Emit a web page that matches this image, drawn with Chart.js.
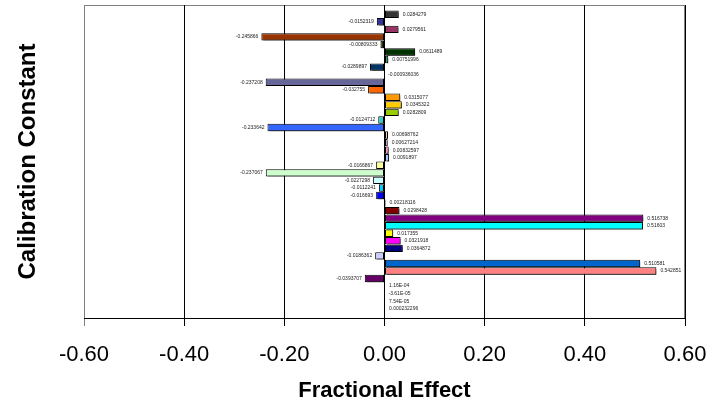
<!DOCTYPE html>
<html>
<head>
<meta charset="utf-8">
<script src="https://cdn.jsdelivr.net/npm/chart.js@4.4.0/dist/chart.umd.min.js"></script>
<style>
  body { margin: 0; background: #fff; }
  #wrap { width: 719px; height: 407px; }
</style>
</head>
<body>
<div id="wrap"><canvas id="chart" width="719" height="407"></canvas></div>
<script>
// ---------- DATOS (de arriba hacia abajo) ----------
const categories = ['Calibration'];
const seriesValues = [
  0.0284279, -0.0152319, 0.0279561, -0.245866, -0.00809333,
  0.0611489, 0.00751996, -0.0289897, -0.000936036, -0.237208,
  -0.032755, 0.0315077, 0.0345322, 0.0282809, -0.0124712,
  -0.233642, 0.00698762, 0.00627214, 0.00832597, 0.0091897,
  -0.0166867, -0.237067, -0.0227298, -0.0112241, -0.016693,
  0.00218116, 0.0298428, 0.516738, 0.51603, 0.017355,
  0.0321918, 0.0364872, -0.0186362, 0.510581, 0.542851,
  -0.0393707, 0.000116, -0.0000361, 0.0000754, 0.000232296
];
const seriesColors = [
  '#333333', '#333399', '#993366', '#993300', '#333300',
  '#003300', '#339966', '#003366', '#969696', '#666699',
  '#FF6600', '#FF9900', '#FFCC00', '#99CC00', '#33CCCC',
  '#3366FF', '#FFCC99', '#CC99FF', '#FF99CC', '#99CCFF',
  '#FFFF99', '#CCFFCC', '#CCFFFF', '#00CCFF', '#0000FF',
  '#008080', '#800000', '#800080', '#00FFFF', '#FFFF00',
  '#FF00FF', '#000080', '#CCCCFF', '#0066CC', '#FF8080',
  '#660066', '#CCFFFF', '#FFFFCC', '#993366', '#9999FF'
];
const xTicks = [-0.6, -0.4, -0.2, 0, 0.2, 0.4, 0.6];

// formato tipo "General" de Excel
function fmt(v) {
  if (v !== 0 && Math.abs(v) < 2e-4) {
    return v.toExponential(2).toUpperCase().replace(/E([+-])(\d)$/, 'E$10$2');
  }
  return String(v);
}

const datasets = seriesValues.map((v, i) => ({
  label: 'S' + (seriesValues.length - i),
  data: [v],
  backgroundColor: seriesColors[i],
  borderColor: '#000',
  borderWidth: 1,
  borderSkipped: false,
  categoryPercentage: 0.965,
  barPercentage: 0.98
}));

// sombra + etiquetas
const barLabels = {
  id: 'barLabels',
  beforeDatasetsDraw(chart) {
    const c = chart.ctx;
    c.save();
    c.shadowColor = 'rgba(0,0,0,0.5)';
    c.shadowOffsetX = 2;
    c.shadowOffsetY = 2;
    c.shadowBlur = 0;
  },
  afterDatasetsDraw(chart) {
    const c = chart.ctx;
    c.restore();
    c.save();
    c.font = '5px "Liberation Sans", Arial, sans-serif';
    c.fillStyle = '#222';
    c.textBaseline = 'middle';
    chart.data.datasets.forEach((ds, i) => {
      const el = chart.getDatasetMeta(i).data[0];
      const v = ds.data[0];
      if (v >= 0 || Math.abs(v) < 0.002) {
        c.textAlign = 'left';
        c.fillText(fmt(v), Math.max(el.x, el.base) + 4, el.y);
      } else {
        c.textAlign = 'right';
        c.fillText(fmt(v), el.x - 3, el.y);
      }
    });
    c.restore();
  },
  beforeDraw(chart) {
    const a = chart.chartArea, c = chart.ctx;
    c.save();
    c.strokeStyle = '#808080';
    c.lineWidth = 1;
    c.strokeRect(a.left + 0.5, a.top + 0.5, a.right - a.left - 1, a.bottom - a.top);
    c.restore();
  }
};

new Chart(document.getElementById('chart'), {
  type: 'bar',
  data: { labels: categories, datasets: datasets },
  options: {
    responsive: false,
    animation: false,
    indexAxis: 'y',
    layout: { padding: { top: 5, right: 0, left: 0, bottom: 0 } },
    plugins: { legend: { display: false }, tooltip: { enabled: false } },
    scales: {
      x: {
        min: -0.6,
        max: 0.6,
        afterBuildTicks: s => { s.ticks = xTicks.map(v => ({ value: v })); },
        afterFit: s => { s.height = 89; s.paddingRight = 34; s.paddingLeft = 0; },
        ticks: {
          color: '#000',
          font: { family: '"Liberation Sans", Arial, sans-serif', size: 22 },
          padding: 16,
          maxRotation: 0,
          callback: v => v.toFixed(2)
        },
        grid: {
          color: ctx => (ctx.tick && ctx.tick.value === -0.6) ? '#808080' : '#000',
          lineWidth: 1,
          tickLength: 8
        },
        border: { color: '#000', width: 1 },
        title: {
          display: true,
          text: 'Fractional Effect',
          color: '#000',
          font: { family: '"Liberation Sans", Arial, sans-serif', size: 22, weight: 'bold' },
          padding: { top: 0, bottom: 3 }
        }
      },
      y: {
        afterFit: s => { s.width = 84; },
        ticks: { display: false },
        grid: { display: false },
        border: { display: false },
        title: {
          display: true,
          text: 'Calibration Constant',
          color: '#000',
          font: { family: '"Liberation Sans", Arial, sans-serif', size: 24, weight: 'bold' },
          padding: { top: 14, bottom: 0 }
        }
      }
    }
  },
  plugins: [barLabels]
});
</script>
</body>
</html>
